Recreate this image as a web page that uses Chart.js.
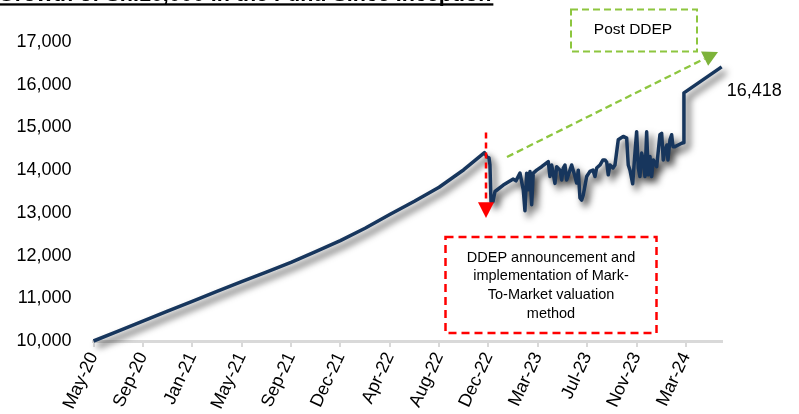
<!DOCTYPE html>
<html>
<head>
<meta charset="utf-8">
<script src="https://cdn.jsdelivr.net/npm/chart.js@4.4.1/dist/chart.umd.min.js"></script>
<style>
  html, body { margin: 0; padding: 0; background: #fff; overflow: hidden; }
  #wrap { position: relative; width: 799px; height: 414px; }
</style>
</head>
<body>
<div id="wrap"><canvas id="c" width="799" height="414"></canvas></div>
<script>
// ---- data ----
const titleText = 'Growth of Sh.10,000 in the Fund Since Inception';
const tickLabels = ['May-20','Sep-20','Jan-21','May-21','Sep-21','Dec-21','Apr-22','Aug-22','Dec-22','Mar-23','Jul-23','Nov-23','Mar-24'];
// position along the date axis (0 = May-20 tick, 1 = Sep-20 tick, ...)
const datePos = [
  0, 0.5, 1, 1.5, 2, 2.5, 3, 3.5, 4, 4.5, 5, 5.5, 6, 6.5, 7, 7.5, 7.919,
  7.970, 8.010, 8.030, 8.051, 8.091, 8.132, 8.300, 8.502, 8.557, 8.638, 8.705, 8.739, 8.774, 8.806, 8.841, 8.875, 8.907, 8.976,
  9.077, 9.211, 9.246, 9.280, 9.347, 9.381, 9.448, 9.483, 9.515, 9.549, 9.584, 9.651, 9.685, 9.752, 9.786, 9.819, 9.853, 9.888, 9.920, 9.989,
  10.056, 10.116, 10.157, 10.191, 10.258, 10.319, 10.359, 10.394, 10.426, 10.461, 10.522, 10.562, 10.629, 10.730, 10.799, 10.831, 10.866, 10.921, 10.967,
  11.001, 11.034, 11.068, 11.103, 11.135, 11.170, 11.204, 11.236, 11.271, 11.305, 11.338, 11.407, 11.473, 11.508, 11.540, 11.575, 11.615, 11.635, 11.676, 11.710, 11.737, 11.777, 11.844, 11.913, 11.945, 11.959,
  12.723
];
const fundValue = [
  10000, 10230, 10465, 10700, 10930, 11160, 11390, 11610, 11840, 12090, 12350, 12640, 12960, 13270, 13600, 14010, 14410,
  14310, 14290, 14120, 13260, 13260, 13500, 13650, 13790, 13750, 13930, 13540, 13050, 13930, 13540, 13970, 13190, 13930, 14000,
  14080, 14200, 13850, 14120, 13690, 14080, 14000, 13770, 14050, 14120, 13770, 14000, 14120, 13850, 13700, 14000, 13350, 13300, 13420, 13850,
  13970, 14000, 13850, 14050, 14120, 14240, 14240, 14190, 13890, 14120, 14050, 14120, 14710, 14790, 14750, 14120, 14000, 13680, 14400,
  14900, 14050, 13850, 14400, 14240, 13850, 14900, 13890, 14320, 13850, 14240, 14080, 14830, 14860, 14240, 14470, 14590, 14240, 14710, 14830, 14550, 14550, 14590, 14630, 14640, 15810,
  16418
];
const yMin = 10000, yMax = 17000, yStep = 1000;
const lastLabel = '16,418';
const boxPostText = 'Post DDEP';
const boxDdepLines = ['DDEP announcement and', 'implementation of Mark-', 'To-Market valuation', 'method'];

const FONT = '"Liberation Sans", Arial, Helvetica, sans-serif';

const overlay = {
  id: 'overlay',
  beforeDatasetDraw(chart) {
    const c = chart.ctx;
    c.save();
    c.shadowColor = 'rgba(0,0,0,0.75)';
    c.shadowBlur = 7;
    c.shadowOffsetX = 4;
    c.shadowOffsetY = 5;
  },
  afterDatasetDraw(chart) { chart.ctx.restore(); },
  afterDraw(chart) {
    const c = chart.ctx;
    const xs = chart.scales.x, ys = chart.scales.y;
    c.save();
    // title (cut off at top)
    c.fillStyle = '#000';
    c.font = 'bold 21.5px ' + FONT;
    c.textAlign = 'left';
    c.textBaseline = 'alphabetic';
    c.fillText(titleText, -2, 1);
    const tw = c.measureText(titleText).width;
    c.fillRect(-2, 3.3, tw + 2, 2.3);

    // Post DDEP box
    c.setLineDash([7, 4]);
    c.lineWidth = 2;
    c.strokeStyle = '#8DC63F';
    c.strokeRect(571, 9.5, 126, 42);
    c.setLineDash([]);
    c.fillStyle = '#000';
    c.font = '15.5px ' + FONT;
    c.textAlign = 'center';
    c.textBaseline = 'middle';
    c.fillText(boxPostText, 633, 30);

    // DDEP box
    c.setLineDash([8, 5]);
    c.lineWidth = 2.5;
    c.strokeStyle = '#FF0000';
    c.strokeRect(445.5, 237, 211, 96);
    c.setLineDash([]);
    c.font = '14.5px ' + FONT;
    boxDdepLines.forEach((t, i) => c.fillText(t, 551, 257.5 + i * 18.7));

    // red event arrow
    const ex = xs.getPixelForValue(7.95);
    const yTop = ys.getPixelForValue(14880);
    const yBase = ys.getPixelForValue(13250);
    const yTip = ys.getPixelForValue(12880);
    c.setLineDash([6, 4]);
    c.lineWidth = 2.5;
    c.strokeStyle = '#FF0000';
    c.beginPath(); c.moveTo(ex, yTop); c.lineTo(ex, yBase); c.stroke();
    c.setLineDash([]);
    c.fillStyle = '#FF0000';
    c.beginPath(); c.moveTo(ex - 8, yBase); c.lineTo(ex + 8, yBase); c.lineTo(ex, yTip); c.closePath(); c.fill();

    // green trend arrow
    const x0 = 507, y0 = 157, tx = 718, ty = 52;
    const dx = tx - x0, dy = ty - y0, len = Math.hypot(dx, dy);
    const ux = dx / len, uy = dy / len;
    const bx = tx - ux * 15, by = ty - uy * 15;
    c.strokeStyle = '#8DC63F';
    c.lineWidth = 2.3;
    c.setLineDash([7, 4]);
    c.beginPath(); c.moveTo(x0, y0); c.lineTo(bx, by); c.stroke();
    c.setLineDash([]);
    c.fillStyle = '#7DB33A';
    c.beginPath();
    c.moveTo(tx, ty);
    c.lineTo(bx - uy * 8, by + ux * 8);
    c.lineTo(bx + uy * 8, by - ux * 8);
    c.closePath(); c.fill();

    // last value label
    const n = datePos.length - 1;
    const lx = xs.getPixelForValue(datePos[n]);
    const ly = ys.getPixelForValue(fundValue[n]);
    c.fillStyle = '#000';
    c.font = '18px ' + FONT;
    c.textAlign = 'left';
    c.textBaseline = 'middle';
    c.fillText(lastLabel, lx + 5, ly + 24);
    c.restore();
  }
};

new Chart(document.getElementById('c'), {
  type: 'line',
  data: {
    datasets: [{
      data: datePos.map((x, i) => ({ x, y: fundValue[i] })),
      borderColor: '#17365D',
      borderWidth: 3.5,
      pointRadius: 0,
      tension: 0,
      borderJoinStyle: 'round',
      clip: false
    }]
  },
  options: {
    responsive: false,
    animation: false,
    events: [],
    layout: { padding: { top: 42, right: 77, bottom: 0, left: 0 } },
    plugins: { legend: { display: false }, tooltip: { enabled: false }, title: { display: false } },
    scales: {
      x: {
        type: 'linear',
        min: 0,
        max: 12.73,
        afterFit(s) { s.height = 73; },
        ticks: {
          stepSize: 1,
          includeBounds: false,
          autoSkip: false,
          minRotation: 65,
          maxRotation: 65,
          padding: 2,
          color: '#000',
          font: { family: FONT, size: 18 },
          callback: (v) => (Number.isInteger(v) && tickLabels[v] !== undefined) ? tickLabels[v] : ''
        },
        grid: { drawOnChartArea: false, drawTicks: true, tickLength: 6, color: '#D9D9D9', lineWidth: 2 },
        border: { display: true, color: '#D9D9D9', width: 3 }
      },
      y: {
        min: yMin,
        max: yMax,
        afterFit(s) { s.width = 93.5; },
        ticks: {
          stepSize: yStep,
          padding: 14,
          color: '#000',
          font: { family: FONT, size: 18 },
          callback: (v) => v.toLocaleString('en-US')
        },
        grid: { display: false },
        border: { display: false }
      }
    }
  },
  plugins: [overlay]
});
</script>
</body>
</html>
